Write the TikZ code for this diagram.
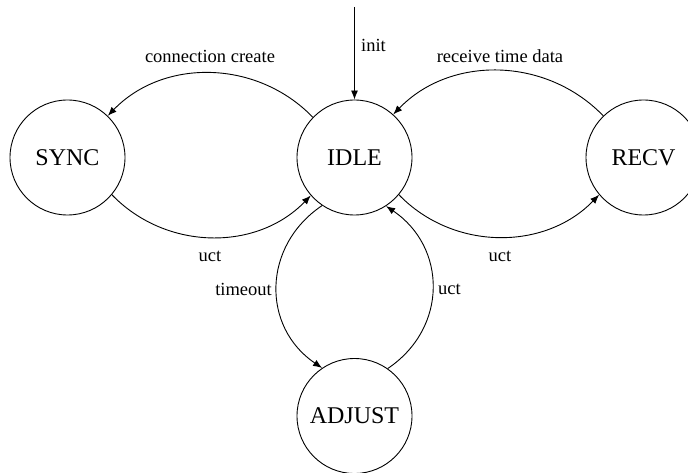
\documentclass[tikz,border=0pt]{standalone}
\usepackage{fontspec}
\setmainfont{Liberation Serif}
\usetikzlibrary{arrows.meta}
\begin{document}
\begin{tikzpicture}[x=1pt,y=-1pt,
  state/.style={circle,draw,line width=0.9pt,minimum size=115pt,inner sep=0pt,font=\fontsize{24}{28}\selectfont},
  lbl/.style={font=\fontsize{18.5}{22}\selectfont,inner sep=0pt},
  tr/.style={line width=0.9pt,-{Latex[length=9pt,width=7pt]}}]
\useasboundingbox (0,0) rectangle (688,473);
\clip (0,0) rectangle (688,473);
\node[state] (SYNC) at (67.5,157.5) {SYNC};
\node[state] (IDLE) at (354.5,157.5) {IDLE};
\node[state] (RECV) at (643.5,157.5) {RECV};
\node[state] (ADJUST) at (354.5,416) {ADJUST};
\coordinate (start) at (354.5,7);
\draw[tr] (start) -- (IDLE);
\node[lbl,anchor=west] (linit) at (361,45) {init};
\draw[tr] (IDLE.136) to[out=134,in=46] (SYNC.46);
\node[lbl] (lcc) at (210,56) {connection create};
\draw[tr] (SYNC.-40) to[out=-46,in=-134] (IDLE.-139);
\node[lbl] (lu1) at (210,256) {uct};
\draw[tr] (RECV.134) to[out=134,in=46] (IDLE.48);
\node[lbl] (lrtd) at (500,56) {receive time data};
\draw[tr] (IDLE.-40) to[out=-46,in=-134] (RECV.-140);
\node[lbl] (lu2) at (500,256) {uct};
\draw[tr] (IDLE.236) to[out=214,in=146,looseness=1.15] (ADJUST.124);
\node[lbl,anchor=east] (lto) at (272,289) {timeout};
\draw[tr] (ADJUST.55) to[out=34,in=-34,looseness=1.15] (IDLE.-57);
\node[lbl,anchor=west] (lu3) at (438,289) {uct};
\end{tikzpicture}
\end{document}
